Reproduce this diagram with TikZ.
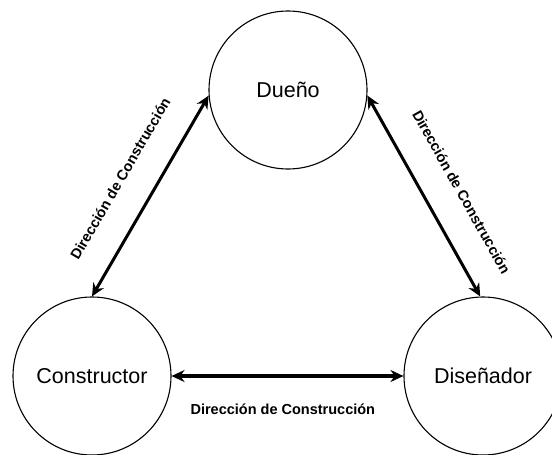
\documentclass[tikz,border=0pt]{standalone}
\usepackage{fontspec}
\setmainfont{Liberation Sans}
\usetikzlibrary{arrows.meta}
\begin{document}
\begin{tikzpicture}[x=1pt,y=-1pt,
  party/.style={circle,draw=black,line width=1.1pt,minimum size=158pt,inner sep=0pt,font=\fontsize{21.5}{24}\selectfont},
  rel/.style={line width=3pt,{Stealth[length=13pt,width=12pt]}-{Stealth[length=13pt,width=12pt]}},
  lbl/.style={font=\bfseries\fontsize{14.5}{16}\selectfont,inner sep=0pt}]
\useasboundingbox (0,0) rectangle (552,455);
\node[party] (due) at (288,90) {Dueño};
\node[party] (con) at (92,376) {Constructor};
\node[party] (dis) at (483,376) {Diseñador};
\draw[rel] (con.90) -- node[lbl,sloped,above=28pt,pos=0.5] (l1) {Dirección de Construcción} (due.184);
\draw[rel] (due.356) -- node[lbl,sloped,above=28pt,pos=0.565] (l2) {Dirección de Construcción} (dis.92);
\draw[rel,line width=3.5pt] (con.east) -- node[lbl,below=26pt,pos=0.48] (l3) {Dirección de Construcción} (dis.west);
\end{tikzpicture}
\end{document}
